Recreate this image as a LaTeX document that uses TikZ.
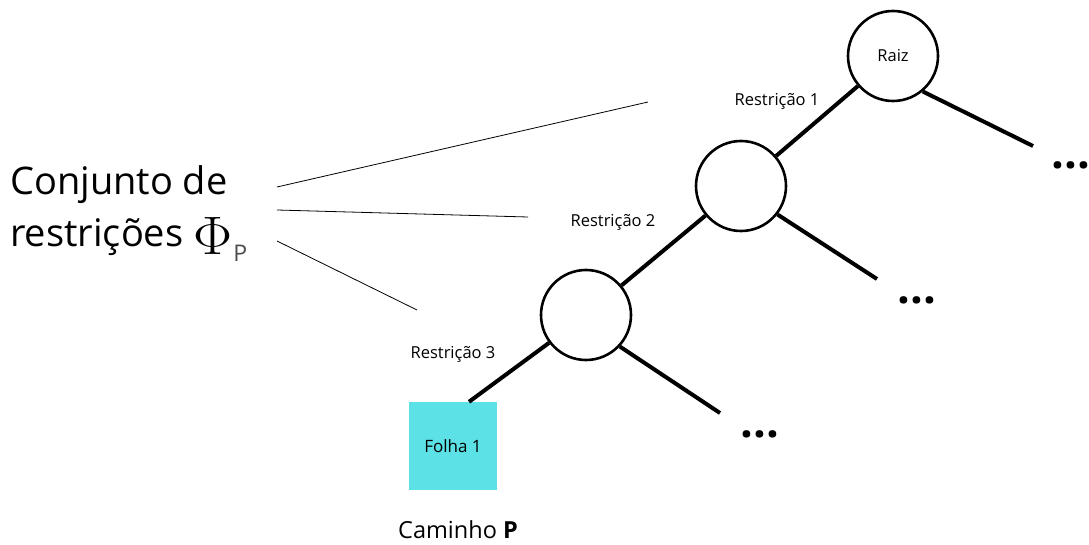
\documentclass[tikz,border=0pt]{standalone}
\usepackage[no-math]{fontspec}
\setmainfont{Open Sans}
\usetikzlibrary{positioning}
\definecolor{folhacor}{RGB}{92,225,230}

\begin{document}
\begin{tikzpicture}[
	x=1pt,
	y=-1pt,
	no/.style={circle, draw, line width=2.6pt, minimum size=90pt,
		inner sep=0pt, font=\fontsize{16.5}{19}\selectfont},
	folha/.style={fill=folhacor, minimum size=88pt, inner sep=0pt,
		font=\fontsize{17}{20}\selectfont},
	aresta/.style={line width=4pt},
	fio/.style={line width=0.8pt},
	restricao/.style={anchor=base, font=\fontsize{16.5}{19}\selectfont},
	reticencias/.style={anchor=base, font=\fontsize{45}{48}\selectfont\bfseries}]

\useasboundingbox[fill=white] (0,0) rectangle (1089,545);

% Tree nodes
\node[no] (raiz) at (893,56) {Raiz};
\node[no] (no2) at (741,186) {};
\node[no] (no3) at (586,315) {};
\node[folha] (folha1) at (453,446) {Folha 1};
\node (caminho) at (458,530) [font=\fontsize{23.5}{26}\selectfont] {Caminho \textbf{P}};

% free ends of the side branches
\coordinate (ramo1) at (1033,146);
\coordinate (ramo2) at (877,279);
\coordinate (ramo3) at (720,413);
\node[reticencias] (mais1) at (1071,169) {...};
\node[reticencias] (mais2) at (917,303) {...};
\node[reticencias] (mais3) at (760,437) {...};

% Path P
\draw[aresta] (raiz) -- (no2);
\draw[aresta] (no2) -- (no3);
\draw[aresta] (no3.-143) -- ([xshift=16pt]folha1.north);

% Side branches
\draw[aresta] (raiz.-50) -- (ramo1);
\draw[aresta] (no2.-38) -- (ramo2);
\draw[aresta] (no3.-43) -- (ramo3);

% Constraint labels
\node[restricao] (r1) at (777,106) {Restrição 1};
\node[restricao] (r2) at (613,227) {Restrição 2};
\node[restricao] (r3) at (453,358) {Restrição 3};

% Constraint set
\node (conjunto) at (10,214) [anchor=west, align=left, inner sep=0pt,
	font=\fontsize{38}{52}\selectfont]
	{Conjunto de\\restrições\hspace{10pt}\raisebox{-8pt}{\resizebox{39pt}{37pt}{$\Phi$}}\hspace{1pt}{\fontsize{23}{24}\selectfont\color{black!70}\raisebox{-15pt}{P}}};

\coordinate (fio1a) at (277,187);
\coordinate (fio1b) at (648,102);
\coordinate (fio2a) at (277,210);
\coordinate (fio2b) at (528,217);
\coordinate (fio3a) at (277,241);
\coordinate (fio3b) at (417,310);
\draw[fio] (fio1a) -- (fio1b);
\draw[fio] (fio2a) -- (fio2b);
\draw[fio] (fio3a) -- (fio3b);

\end{tikzpicture}
\end{document}
